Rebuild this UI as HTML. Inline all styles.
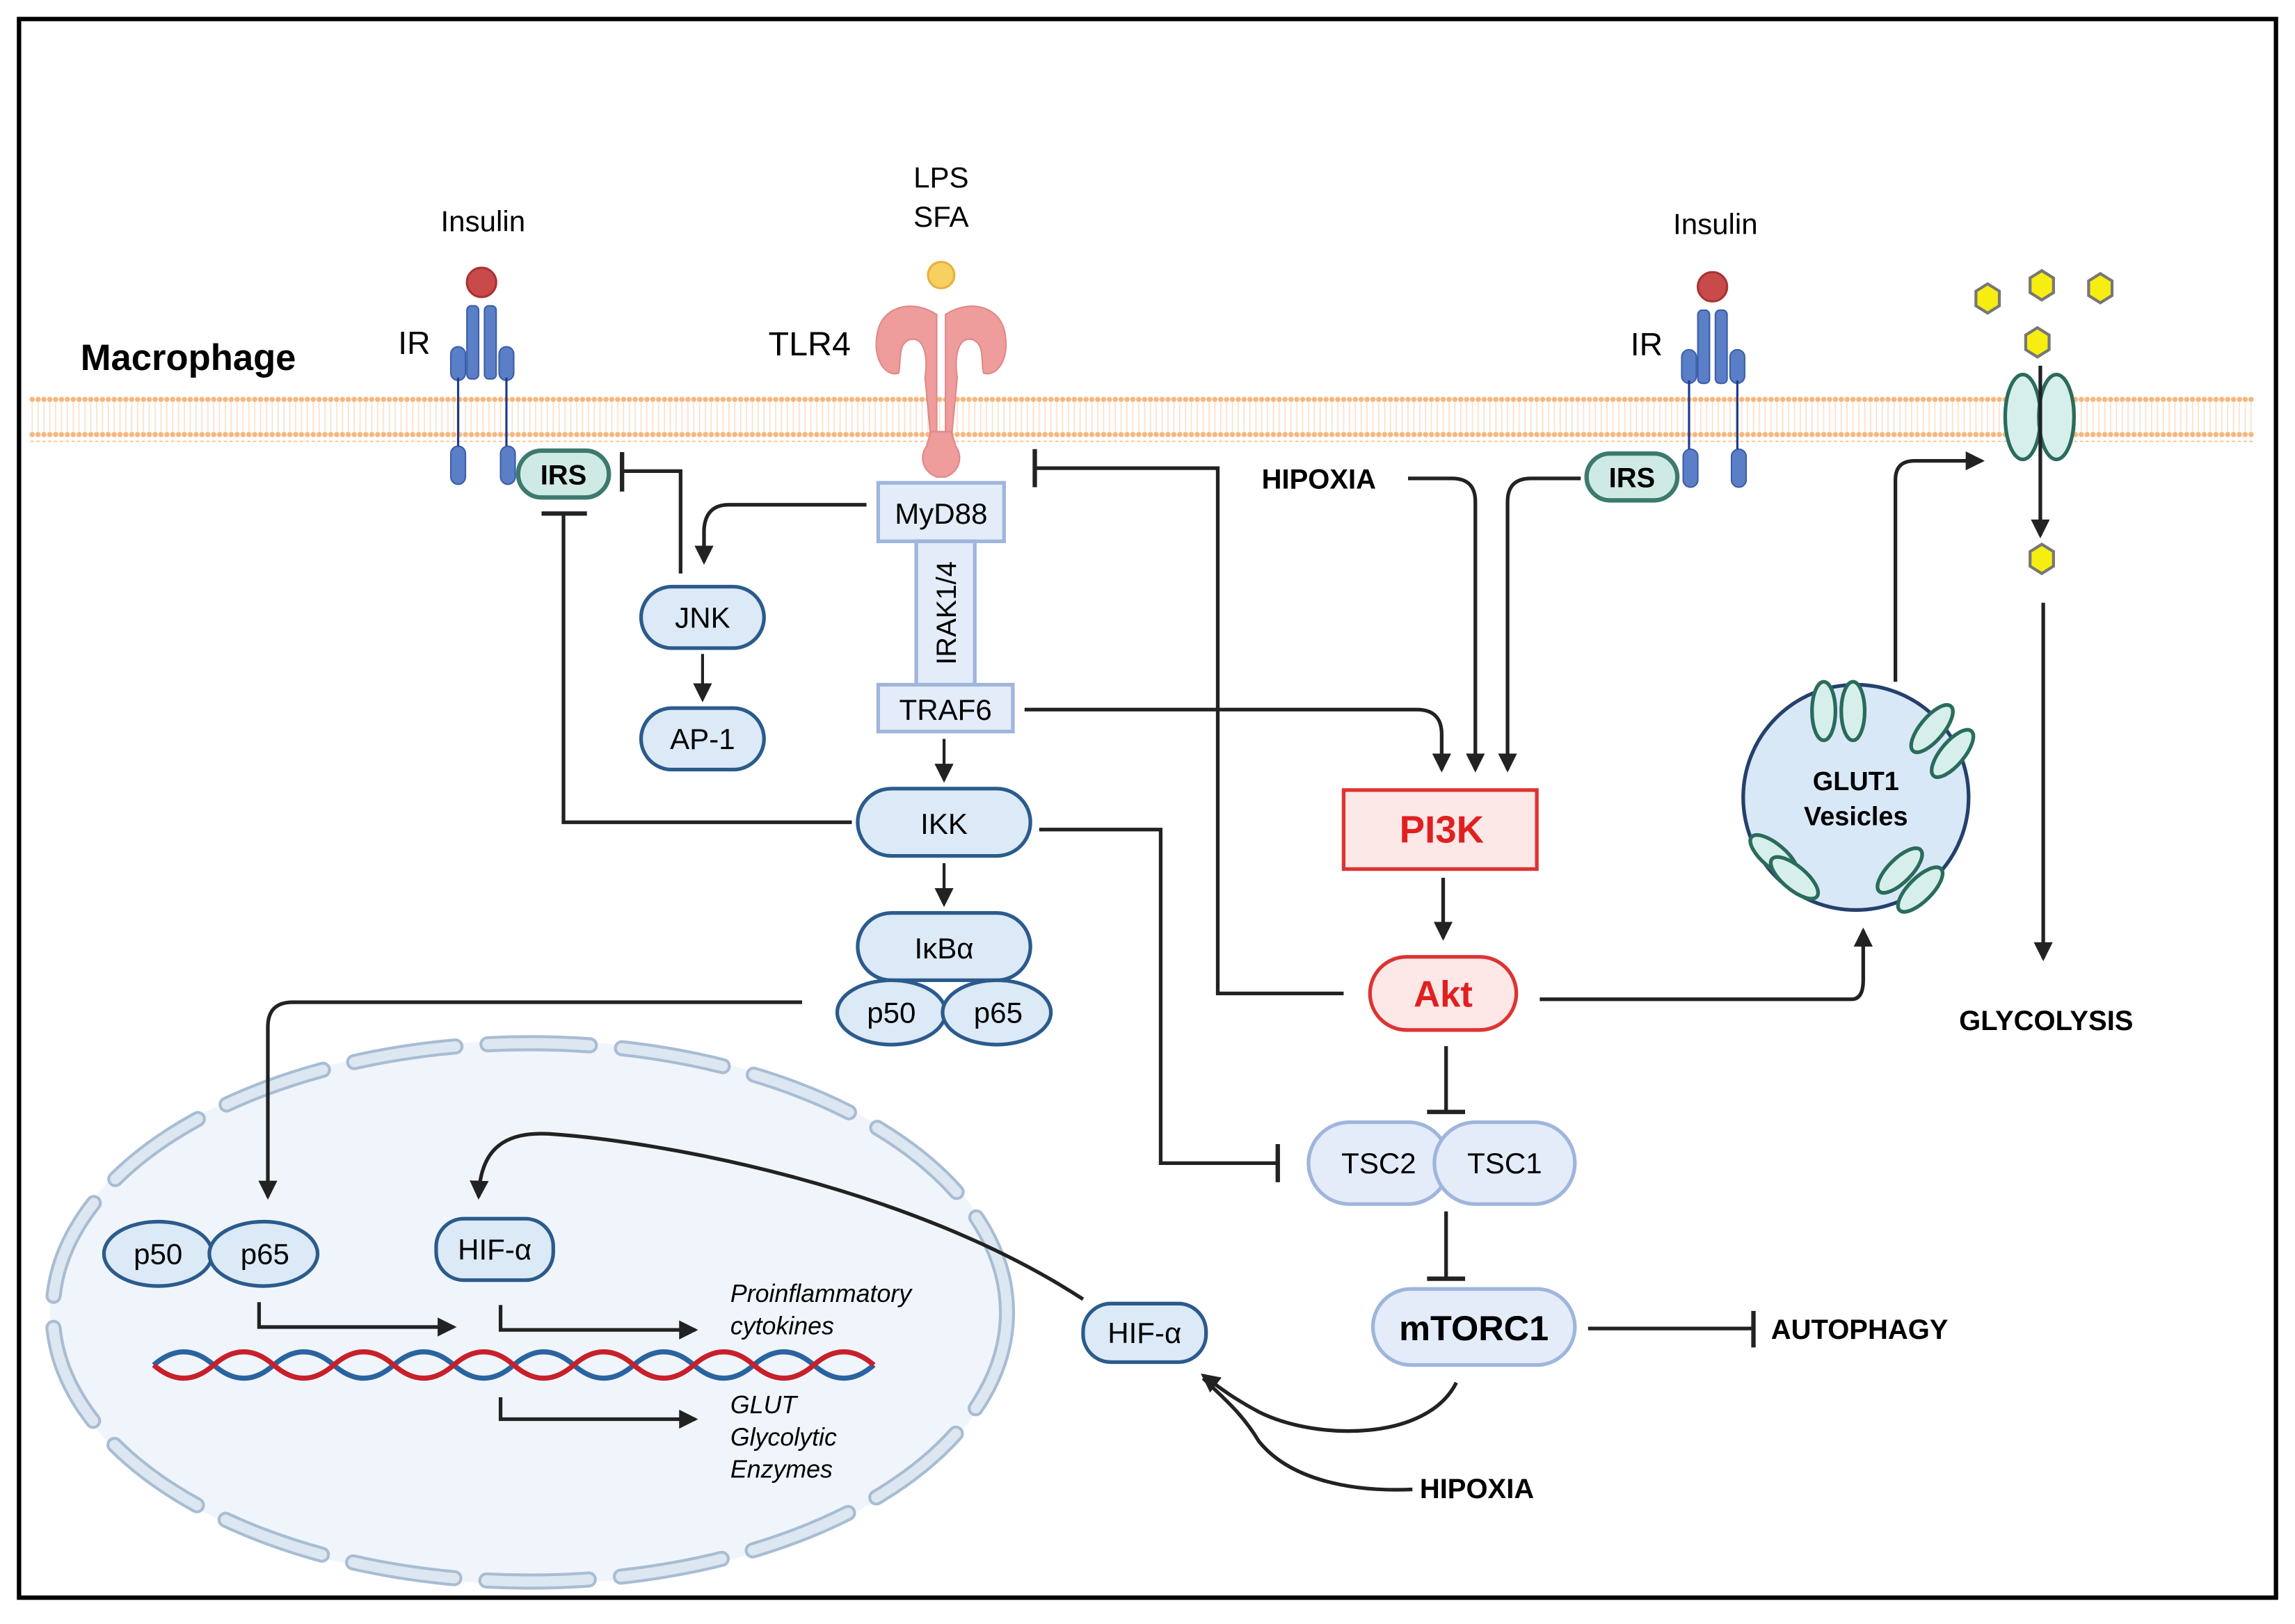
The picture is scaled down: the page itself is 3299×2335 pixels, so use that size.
<!DOCTYPE html>
<html><head><meta charset="utf-8"><style>
html,body{margin:0;padding:0;background:#fff}
svg{display:block}
text{font-family:"Liberation Sans",sans-serif}
</style></head><body>
<svg width="3299" height="2335" viewBox="0 0 1568 1110" preserveAspectRatio="none" xmlns="http://www.w3.org/2000/svg">
<defs>
<marker id="ar" markerWidth="13" markerHeight="13" refX="11" refY="6.5" orient="auto" markerUnits="userSpaceOnUse"><path d="M0,0 L13,6.5 L0,13 z" fill="#222"/></marker>
<pattern id="lip" width="4" height="30" patternUnits="userSpaceOnUse"><circle cx="2" cy="3" r="1.8" fill="#f6b77e"/><line x1="2" y1="5" x2="2" y2="25" stroke="#fbe0c8" stroke-width="0.8"/><circle cx="2" cy="27" r="1.8" fill="#f6b77e"/></pattern>
</defs>
<rect x="0" y="0" width="1568" height="1110" fill="#fff"/>
<rect x="13" y="13" width="1542" height="1079" fill="none" stroke="#000" stroke-width="3"/>
<rect x="20" y="270" width="1520" height="32" fill="url(#lip)"/>
<text x="55" y="253" font-size="25" font-weight="bold">Macrophage</text>

<!-- nucleus -->
<ellipse cx="362" cy="897" rx="328" ry="186" fill="#f0f5fb"/>
<ellipse cx="362" cy="897" rx="326" ry="184" fill="none" stroke="#a8bdd3" stroke-width="11" stroke-dasharray="70 22" stroke-linecap="round"/>
<ellipse cx="362" cy="897" rx="326" ry="184" fill="none" stroke="#dce7f2" stroke-width="7" stroke-dasharray="70 22" stroke-linecap="round"/>

<!-- left IR -->
<text x="330" y="158" font-size="20" text-anchor="middle">Insulin</text>
<circle cx="329" cy="193" r="10" fill="#c94a4a" stroke="#a33" stroke-width="1.5"/>
<text x="272" y="242" font-size="22">IR</text>
<g fill="#5b7fc6" stroke="#3c5ea8" stroke-width="1">
<rect x="319" y="209" width="8" height="50" rx="3"/><rect x="331" y="209" width="8" height="50" rx="3"/>
<rect x="308" y="237" width="10" height="23" rx="5"/><rect x="341" y="237" width="10" height="23" rx="5"/>
<rect x="308" y="305" width="10" height="26" rx="5"/><rect x="342" y="305" width="10" height="26" rx="5"/>
</g>
<line x1="313" y1="258" x2="313" y2="305" stroke="#1f3a8a" stroke-width="1.5"/>
<line x1="346" y1="258" x2="346" y2="305" stroke="#1f3a8a" stroke-width="1.5"/>
<rect x="354" y="308" width="62" height="32" rx="16" fill="#cfeae4" stroke="#3d7a6e" stroke-width="3"/>
<text x="385" y="331" font-size="19" font-weight="bold" text-anchor="middle">IRS</text>

<!-- right IR -->
<text x="1172" y="160" font-size="20" text-anchor="middle">Insulin</text>
<circle cx="1170" cy="196" r="10" fill="#c94a4a" stroke="#a33" stroke-width="1.5"/>
<text x="1114" y="243" font-size="22">IR</text>
<g fill="#5b7fc6" stroke="#3c5ea8" stroke-width="1">
<rect x="1160" y="212" width="8" height="50" rx="3"/><rect x="1172" y="212" width="8" height="50" rx="3"/>
<rect x="1149" y="239" width="10" height="23" rx="5"/><rect x="1182" y="239" width="10" height="23" rx="5"/>
<rect x="1150" y="307" width="10" height="26" rx="5"/><rect x="1183" y="307" width="10" height="26" rx="5"/>
</g>
<line x1="1154" y1="260" x2="1154" y2="307" stroke="#1f3a8a" stroke-width="1.5"/>
<line x1="1187" y1="260" x2="1187" y2="307" stroke="#1f3a8a" stroke-width="1.5"/>
<rect x="1084" y="310" width="62" height="32" rx="16" fill="#cfeae4" stroke="#3d7a6e" stroke-width="3"/>
<text x="1115" y="333" font-size="19" font-weight="bold" text-anchor="middle">IRS</text>

<!-- TLR4 -->
<text x="643" y="128" font-size="20" text-anchor="middle">LPS</text>
<text x="643" y="155" font-size="20" text-anchor="middle">SFA</text>
<circle cx="643" cy="188" r="9" fill="#f7d060" stroke="#e8b040" stroke-width="1.5"/>
<text x="525" y="243" font-size="23">TLR4</text>
<g fill="#ee9c9c" stroke="#e08888" stroke-width="1">
<path d="M640,215 C625,205 605,208 600,225 C595,245 605,258 614,255 C616,245 613,235 622,232 C632,230 634,245 632,258 L636,300 L640,300 Z"/>
<path d="M646,215 C661,205 681,208 686,225 C691,245 681,258 672,255 C670,245 673,235 664,232 C654,230 652,245 654,258 L650,300 L646,300 Z"/>
<path d="M636,295 L633,305 C628,312 630,322 640,326 L646,326 C656,322 658,312 653,305 L650,295 Z"/>
</g>

<!-- GLUT transporter & glucose -->
<ellipse cx="1382" cy="285" rx="12" ry="29" fill="#d6efea" stroke="#2a6b5c" stroke-width="2.5"/>
<ellipse cx="1405" cy="285" rx="12" ry="29" fill="#d6efea" stroke="#2a6b5c" stroke-width="2.5"/>
<g fill="#f5ee10" stroke="#777" stroke-width="2">
<polygon points="1358,194 1366,199 1366,209 1358,214 1350,209 1350,199"/>
<polygon points="1395,185 1403,190 1403,200 1395,205 1387,200 1387,190"/>
<polygon points="1435,187 1443,192 1443,202 1435,207 1427,202 1427,192"/>
<polygon points="1392,224 1400,229 1400,239 1392,244 1384,239 1384,229"/>
<polygon points="1395,372 1403,377 1403,387 1395,392 1387,387 1387,377"/>
</g>
<line x1="1394" y1="250" x2="1394" y2="366" stroke="#222" stroke-width="2.5" marker-end="url(#ar)"/>
<line x1="1396" y1="412" x2="1396" y2="655" stroke="#222" stroke-width="2.5" marker-end="url(#ar)"/>
<text x="1398" y="704" font-size="19" font-weight="bold" text-anchor="middle">GLYCOLYSIS</text>

<!-- GLUT1 vesicle -->
<circle cx="1268" cy="545" r="77" fill="#d9e8f7" stroke="#24406d" stroke-width="2.5"/>
<g fill="#d6efea" stroke="#2a6b5c" stroke-width="2.5">
<ellipse cx="1246" cy="486" rx="8" ry="20"/><ellipse cx="1266" cy="486" rx="8" ry="20"/>
<ellipse cx="1320" cy="498" rx="8" ry="20" transform="rotate(40 1320 498)"/><ellipse cx="1334" cy="515" rx="8" ry="20" transform="rotate(40 1334 515)"/>
<ellipse cx="1212" cy="585" rx="8" ry="20" transform="rotate(-50 1212 585)"/><ellipse cx="1226" cy="600" rx="8" ry="20" transform="rotate(-50 1226 600)"/>
<ellipse cx="1298" cy="595" rx="8" ry="20" transform="rotate(45 1298 595)"/><ellipse cx="1312" cy="608" rx="8" ry="20" transform="rotate(45 1312 608)"/>
</g>
<text x="1268" y="540" font-size="18" font-weight="bold" text-anchor="middle">GLUT1</text>
<text x="1268" y="564" font-size="18" font-weight="bold" text-anchor="middle">Vesicles</text>
<path d="M1295,466 L1295,328 Q1295,315 1308,315 L1354,315" fill="none" stroke="#222" stroke-width="2.5" marker-end="url(#ar)"/>

<!-- MyD88 / IRAK / TRAF6 -->
<rect x="600" y="330" width="86" height="40" fill="#e3ecf8" stroke="#9fb5dd" stroke-width="2.5"/>
<text x="643" y="358" font-size="20" text-anchor="middle">MyD88</text>
<rect x="626" y="370" width="40" height="98" fill="#e3ecf8" stroke="#9fb5dd" stroke-width="2.5"/>
<text x="0" y="0" font-size="19" text-anchor="middle" transform="translate(653,419) rotate(-90)">IRAK1/4</text>
<rect x="600" y="468" width="92" height="32" fill="#e3ecf8" stroke="#9fb5dd" stroke-width="2.5"/>
<text x="646" y="492" font-size="20" text-anchor="middle">TRAF6</text>

<!-- JNK AP-1 -->
<rect x="438" y="401" width="84" height="42" rx="21" fill="#dce9f6" stroke="#2b5b8c" stroke-width="2.5"/>
<text x="480" y="429" font-size="20" text-anchor="middle">JNK</text>
<rect x="438" y="484" width="84" height="42" rx="21" fill="#dce9f6" stroke="#2b5b8c" stroke-width="2.5"/>
<text x="480" y="512" font-size="20" text-anchor="middle">AP-1</text>
<line x1="480" y1="447" x2="480" y2="478" stroke="#222" stroke-width="2" marker-end="url(#ar)"/>

<!-- IKK IkBa p50 p65 -->
<rect x="586" y="539" width="118" height="46" rx="23" fill="#dce9f6" stroke="#2b5b8c" stroke-width="2.5"/>
<text x="645" y="570" font-size="20" text-anchor="middle">IKK</text>
<rect x="586" y="624" width="118" height="46" rx="23" fill="#dce9f6" stroke="#2b5b8c" stroke-width="2.5"/>
<text x="645" y="655" font-size="20" text-anchor="middle">IκBα</text>
<ellipse cx="609" cy="692" rx="37" ry="22" fill="#dce9f6" stroke="#2b5b8c" stroke-width="2.5"/>
<ellipse cx="681" cy="692" rx="37" ry="22" fill="#dce9f6" stroke="#2b5b8c" stroke-width="2.5"/>
<text x="609" y="699" font-size="20" text-anchor="middle">p50</text>
<text x="682" y="699" font-size="20" text-anchor="middle">p65</text>
<line x1="645" y1="505" x2="645" y2="533" stroke="#222" stroke-width="2" marker-end="url(#ar)"/>
<line x1="645" y1="590" x2="645" y2="618" stroke="#222" stroke-width="2" marker-end="url(#ar)"/>

<!-- nucleus contents -->
<ellipse cx="108" cy="857" rx="37" ry="22" fill="#dce9f6" stroke="#2b5b8c" stroke-width="2.5"/>
<ellipse cx="180" cy="857" rx="37" ry="22" fill="#dce9f6" stroke="#2b5b8c" stroke-width="2.5"/>
<text x="108" y="864" font-size="20" text-anchor="middle">p50</text>
<text x="181" y="864" font-size="20" text-anchor="middle">p65</text>
<rect x="298" y="833" width="80" height="42" rx="19" fill="#dce9f6" stroke="#2b5b8c" stroke-width="2.5"/>
<text x="338" y="861" font-size="20" text-anchor="middle">HIF-α</text>
<path d="M177,890 L177,907 L310,907" fill="none" stroke="#222" stroke-width="2.5" marker-end="url(#ar)"/>
<path d="M342,892 L342,909 L475,909" fill="none" stroke="#222" stroke-width="2.5" marker-end="url(#ar)"/>
<path d="M342,955 L342,970 L475,970" fill="none" stroke="#222" stroke-width="2.5" marker-end="url(#ar)"/>
<g font-size="17" font-style="italic">
<text x="499" y="890">Proinflammatory</text><text x="499" y="912">cytokines</text>
<text x="499" y="966">GLUT</text><text x="499" y="988">Glycolytic</text><text x="499" y="1010">Enzymes</text>
</g>
<path d="M105,933 q20.5,-18 41,0 t41,0 t41,0 t41,0 t41,0 t41,0 t41,0 t41,0 t41,0 t41,0 t41,0 t41,0" fill="none" stroke="#2a63a0" stroke-width="3.5"/>
<path d="M105,933 q20.5,18 41,0 t41,0 t41,0 t41,0 t41,0 t41,0 t41,0 t41,0 t41,0 t41,0 t41,0 t41,0" fill="none" stroke="#c8202a" stroke-width="3.5"/>

<!-- HIF outside -->
<rect x="740" y="891" width="84" height="40" rx="19" fill="#dce9f6" stroke="#2b5b8c" stroke-width="2.5"/>
<text x="782" y="918" font-size="20" text-anchor="middle">HIF-α</text>
<path d="M740,888 C620,810 450,780 375,775 C340,773 328,790 327,818" fill="none" stroke="#222" stroke-width="2.5" marker-end="url(#ar)"/>

<!-- PI3K Akt -->
<rect x="918" y="540" width="132" height="54" fill="#fde8e8" stroke="#d33" stroke-width="2.5"/>
<text x="985" y="576" font-size="26" font-weight="bold" fill="#e02020" text-anchor="middle">PI3K</text>
<rect x="936" y="654" width="100" height="50" rx="25" fill="#fde7e7" stroke="#d33" stroke-width="2.5"/>
<text x="986" y="688" font-size="25" font-weight="bold" fill="#e02020" text-anchor="middle">Akt</text>
<line x1="986" y1="600" x2="986" y2="641" stroke="#222" stroke-width="2.5" marker-end="url(#ar)"/>

<!-- TSC -->
<rect x="894" y="767" width="96" height="56" rx="28" fill="#e3ecf8" stroke="#9fb5dd" stroke-width="2.5"/>
<rect x="980" y="767" width="96" height="56" rx="28" fill="#e3ecf8" stroke="#9fb5dd" stroke-width="2.5"/>
<text x="942" y="802" font-size="20" text-anchor="middle">TSC2</text>
<text x="1028" y="802" font-size="20" text-anchor="middle">TSC1</text>

<!-- mTORC1 -->
<rect x="938" y="881" width="138" height="52" rx="26" fill="#e3ecf8" stroke="#9fb5dd" stroke-width="2.5"/>
<text x="1007" y="916" font-size="24" font-weight="bold" text-anchor="middle">mTORC1</text>
<line x1="1085" y1="908" x2="1197" y2="908" stroke="#222" stroke-width="2.5"/>
<line x1="1198" y1="896" x2="1198" y2="921" stroke="#222" stroke-width="3"/>
<text x="1210" y="915" font-size="19" font-weight="bold">AUTOPHAGY</text>

<text x="862" y="334" font-size="19" font-weight="bold">HIPOXIA</text>
<text x="970" y="1024" font-size="19" font-weight="bold">HIPOXIA</text>

<!-- connectors -->
<g fill="none" stroke="#222" stroke-width="2.5">
<path d="M592,345 L498,345 Q482,345 481,362 L481,384" marker-end="url(#ar)"/>
<path d="M465,392 L465,322 L426,322"/><line x1="425" y1="309" x2="425" y2="336" stroke-width="3"/>
<path d="M582,562 L385,562 L385,352"/><line x1="370" y1="351" x2="401" y2="351" stroke-width="3"/>
<path d="M548,685 L200,685 Q183,685 183,702 L183,818" marker-end="url(#ar)"/>
<path d="M710,567 L793,567 L793,795 L872,795"/><line x1="873" y1="782" x2="873" y2="808" stroke-width="3"/>
<path d="M918,679 L832,679 L832,320 L708,320"/><line x1="707" y1="307" x2="707" y2="333" stroke-width="3"/>
<path d="M700,485 L968,485 Q985,485 985,502 L985,526" marker-end="url(#ar)"/>
<path d="M962,327 L992,327 Q1008,327 1008,343 L1008,526" marker-end="url(#ar)"/>
<path d="M1080,327 L1046,327 Q1030,327 1030,343 L1030,526" marker-end="url(#ar)"/>
<path d="M988,715 L988,759"/><line x1="975" y1="760" x2="1001" y2="760" stroke-width="3"/>
<path d="M988,828 L988,873"/><line x1="975" y1="874" x2="1001" y2="874" stroke-width="3"/>
<path d="M1052,683 L1265,683 Q1273,683 1273,670 L1273,636" marker-end="url(#ar)"/>
<path d="M995,945 C975,985 900,985 860,965 C845,957 835,950 822,940" marker-end="url(#ar)"/>
<path d="M965,1018 C920,1020 880,1010 860,985 C848,965 835,955 822,942"/>
</g>
</svg>
</body></html>
